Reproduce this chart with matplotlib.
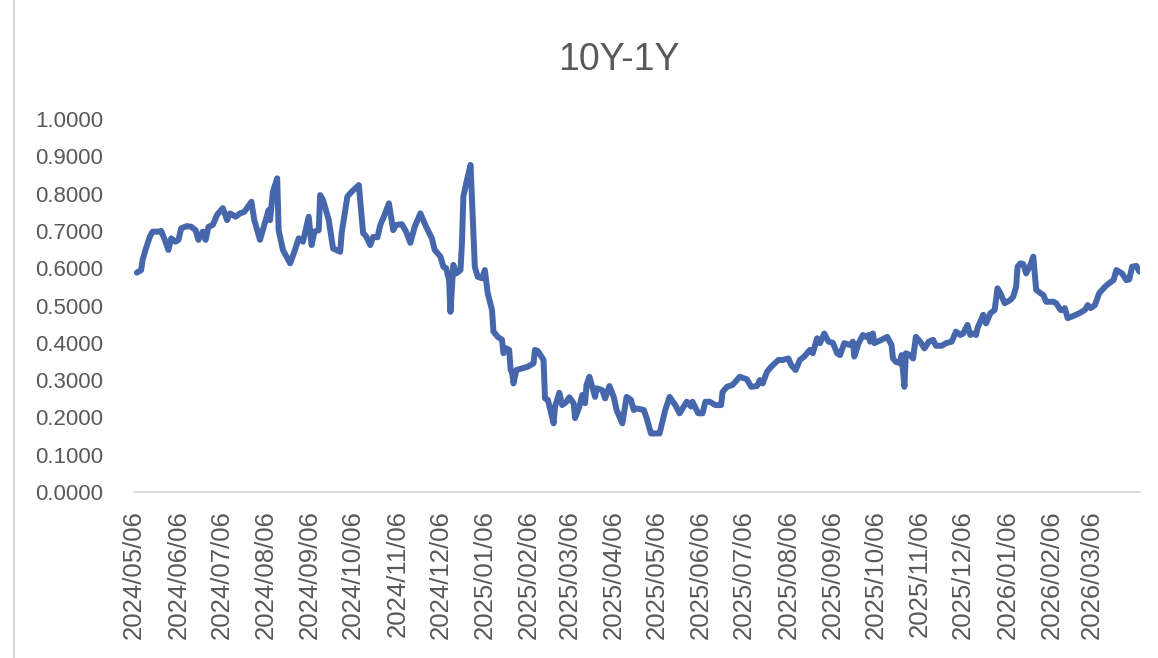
import matplotlib
matplotlib.use("Agg")
import matplotlib.pyplot as plt
from matplotlib.lines import Line2D
import pandas as pd

# ---- data ----
start_date = "2024-05-06"
# observation dates, as days after start_date
obs_day = [
    2, 5, 6, 8, 11, 13, 17, 19, 22, 24, 26, 29, 31, 33, 37, 40, 43, 45, 48, 50,
    52, 55, 58, 62, 65, 67, 71, 74, 77, 82, 84, 88, 91, 94, 95, 97, 100, 101, 104, 109,
    112, 115, 118, 122, 124, 126, 129, 130, 132, 136, 139, 144, 145, 149, 152, 157, 160, 162, 165, 167,
    170, 172, 175, 178, 181, 183, 187, 190, 193, 196, 200, 204, 208, 210, 214, 216, 218, 220, 221, 223,
    225, 228, 229, 230, 232, 235, 238, 240, 243, 245, 247, 250, 251, 254, 257, 258, 260, 262, 263, 264,
    265, 267, 275, 279, 280, 282, 286, 287, 289, 293, 294, 297, 299, 302, 304, 307, 308, 311, 313, 315,
    316, 318, 322, 323, 327, 329, 332, 335, 337, 341, 344, 347, 349, 351, 356, 358, 361, 367, 371, 374,
    378, 381, 386, 389, 390, 394, 397, 399, 402, 406, 410, 411, 414, 418, 423, 428, 431, 435, 437, 439,
    442, 445, 450, 453, 457, 459, 462, 465, 468, 472, 474, 477, 479, 482, 485, 488, 491, 493, 496, 500,
    502, 503, 506, 509, 511, 513, 514, 516, 517, 522, 526, 529, 530, 532, 535, 536, 538, 539, 542, 544,
    546, 549, 552, 555, 558, 560, 564, 567, 571, 574, 577, 579, 582, 584, 586, 588, 589, 592, 593, 595,
    598, 601, 603, 605, 608, 612, 614, 616, 617, 619, 621, 623, 626, 628, 630, 633, 635, 637, 642, 644,
    647, 649, 650, 652, 656, 660, 664, 666, 668, 671, 674, 678, 681, 684, 686, 690, 693, 695, 697, 700,
    702,
]
spread_10y_1y = [
    0.588, 0.595, 0.622, 0.649, 0.684, 0.698, 0.698, 0.700, 0.671, 0.649, 0.680, 0.671, 0.676, 0.707, 0.713, 0.711, 0.702, 0.676, 0.698, 0.676,
    0.711, 0.716, 0.743, 0.761, 0.729, 0.747, 0.738, 0.747, 0.751, 0.778, 0.729, 0.676, 0.716, 0.756, 0.729, 0.805, 0.841, 0.702, 0.649, 0.613,
    0.644, 0.680, 0.671, 0.738, 0.662, 0.698, 0.702, 0.796, 0.783, 0.729, 0.653, 0.644, 0.694, 0.792, 0.805, 0.823, 0.694, 0.686, 0.662, 0.684,
    0.683, 0.716, 0.743, 0.774, 0.702, 0.716, 0.718, 0.698, 0.668, 0.711, 0.747, 0.711, 0.680, 0.649, 0.631, 0.604, 0.600, 0.568, 0.483, 0.609,
    0.586, 0.595, 0.667, 0.792, 0.828, 0.877, 0.604, 0.577, 0.573, 0.595, 0.533, 0.488, 0.430, 0.416, 0.408, 0.372, 0.385, 0.381, 0.327, 0.322,
    0.291, 0.327, 0.336, 0.345, 0.381, 0.378, 0.354, 0.251, 0.247, 0.184, 0.229, 0.266, 0.233, 0.242, 0.254, 0.238, 0.198, 0.229, 0.260, 0.238,
    0.287, 0.309, 0.255, 0.278, 0.273, 0.251, 0.284, 0.255, 0.220, 0.184, 0.255, 0.247, 0.220, 0.224, 0.220, 0.198, 0.157, 0.157, 0.220, 0.255,
    0.233, 0.211, 0.242, 0.229, 0.242, 0.211, 0.211, 0.242, 0.242, 0.233, 0.233, 0.268, 0.282, 0.287, 0.309, 0.302, 0.282, 0.284, 0.300, 0.291,
    0.322, 0.336, 0.354, 0.354, 0.358, 0.340, 0.327, 0.354, 0.363, 0.381, 0.372, 0.412, 0.399, 0.425, 0.403, 0.400, 0.372, 0.367, 0.399, 0.394,
    0.403, 0.363, 0.399, 0.421, 0.416, 0.421, 0.403, 0.425, 0.399, 0.408, 0.416, 0.394, 0.358, 0.349, 0.345, 0.367, 0.282, 0.372, 0.367, 0.358,
    0.416, 0.403, 0.385, 0.403, 0.408, 0.392, 0.392, 0.399, 0.403, 0.430, 0.421, 0.425, 0.448, 0.421, 0.425, 0.421, 0.439, 0.466, 0.475, 0.452,
    0.479, 0.488, 0.546, 0.533, 0.506, 0.515, 0.524, 0.550, 0.604, 0.613, 0.611, 0.586, 0.609, 0.631, 0.542, 0.533, 0.528, 0.510, 0.510, 0.506,
    0.488, 0.488, 0.493, 0.466, 0.472, 0.479, 0.488, 0.501, 0.493, 0.501, 0.533, 0.550, 0.560, 0.568, 0.595, 0.586, 0.568, 0.570, 0.604, 0.606,
    0.591,
]
title = "10Y-1Y"
y_ticks = [0.0, 0.1, 0.2, 0.3, 0.4, 0.5, 0.6, 0.7, 0.8, 0.9, 1.0]
x_tick_dates = pd.date_range("2024-05-01", "2026-03-01", freq="MS") + pd.Timedelta(days=5)

# ---- style ----
LINE_COLOR = "#4767AD"
TEXT_COLOR = "#595959"
AXIS_COLOR = "#D9D9D9"
FONT = ["Liberation Sans", "DejaVu Sans"]

dates = pd.to_datetime(start_date) + pd.to_timedelta(obs_day, unit="D")
t0 = pd.to_datetime(start_date)
t_end = t0 + pd.Timedelta(days=702.5)

fig = plt.figure(figsize=(11.58, 6.58), dpi=100)
ax = fig.add_axes([134 / 1158, 1 - 492 / 658, (1140 - 134) / 1158, (492 - 119) / 658])

ax.plot(dates, spread_10y_1y, color=LINE_COLOR, lw=4.3, solid_joinstyle="round",
        solid_capstyle="round")

ax.set_ylim(0, 1.0)
ax.set_xlim(t0, t_end)
ax.set_yticks(y_ticks)
ax.set_yticklabels([f"{v:.4f}" for v in y_ticks], fontsize=16, color=TEXT_COLOR,
                   family=FONT)

ax.set_xticks(x_tick_dates)
ax.set_xticklabels([d.strftime("%Y/%m/%d") for d in x_tick_dates], rotation=90,
                   fontsize=18.5, color=TEXT_COLOR, family=FONT)
ax.tick_params(axis="x", length=0, pad=13)
ax.tick_params(axis="y", length=0, pad=22)

for s in ["top", "right", "left"]:
    ax.spines[s].set_visible(False)
ax.spines["bottom"].set_color(AXIS_COLOR)
ax.spines["bottom"].set_linewidth(1.2)

fig.text(619 / 1158, 1 - 60 / 658, title, ha="center", va="center", fontsize=27,
         color=TEXT_COLOR, family=FONT)

# chart-area border (left edge visible in reference)
fig.add_artist(Line2D([14 / 1158, 14 / 1158], [0, 1], color=AXIS_COLOR, lw=1.5,
                      transform=fig.transFigure))

fig.savefig("out.png", dpi=100)
